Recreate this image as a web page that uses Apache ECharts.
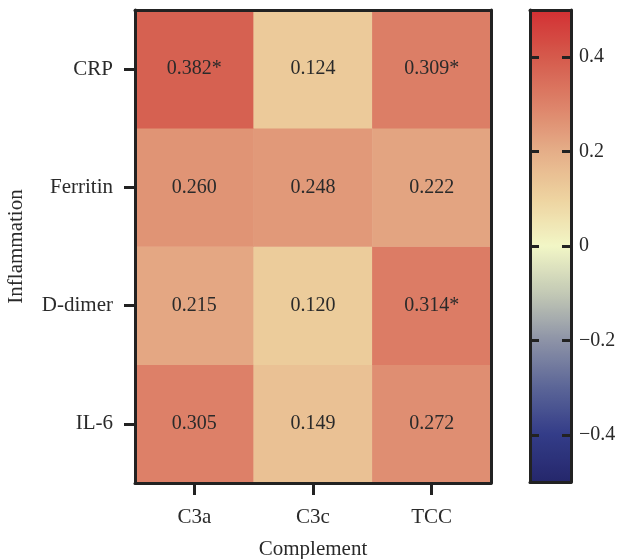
<!DOCTYPE html>
<html>
<head>
<meta charset="utf-8">
<script src="https://cdn.jsdelivr.net/npm/echarts@6/dist/echarts.min.js"></script>
<style>
    html, body { margin: 0; padding: 0; background: #fff; }
    #chart { width: 618px; height: 559px; }
</style>
</head>
<body>
<div id="chart"></div>
<script>
    // columns and rows of the heatmap
    var complement = ["C3a", "C3c", "TCC"];
    var inflammation = ["IL-6", "D-dimer", "Ferritin", "CRP"]; // bottom to top

    // correlation per row, in column order
    var il6 = [0.305, 0.149, 0.272];
    var dDimer = [0.215, 0.120, 0.314];
    var ferritin = [0.260, 0.248, 0.222];
    var crp = [0.382, 0.124, 0.309];

    // significance marks
    var il6Sig = ["", "", ""];
    var dDimerSig = ["", "", "*"];
    var ferritinSig = ["", "", ""];
    var crpSig = ["*", "", "*"];

    var colorbarTicks = [-0.4, -0.2, 0, 0.2, 0.4];
    var palette = ["#25276b", "#333c88", "#5b6597", "#8d93a7", "#c3c9b5", "#f2f6c6",
                   "#eed3a0", "#e5ae88", "#dd8269", "#d55a4c", "#d23033"];

    var rows = [il6, dDimer, ferritin, crp];
    var sigs = [il6Sig, dDimerSig, ferritinSig, crpSig];
    var data = [];
    rows.forEach(function (r, y) {
        r.forEach(function (v, x) {
            data.push([x, y, v, sigs[y][x]]);
        });
    });

    var font = "Liberation Serif";
    var ink = "#2a2a2a";
    var frame = { onZero: false, lineStyle: { color: "#222", width: 3 } };

    var myChart = echarts.init(document.getElementById("chart"));
    var option = {
        animation: false,
        textStyle: { fontFamily: font },
        grid: [
            { left: 135, top: 10, width: 356, height: 473, outerBoundsMode: "none", containLabel: false },
            { left: 530, top: 10, width: 41, height: 472, outerBoundsMode: "none", containLabel: false }
        ],
        xAxis: [
            {
                type: "category", data: complement, gridIndex: 0, position: "bottom",
                name: "Complement", nameLocation: "middle", nameGap: 56,
                nameTextStyle: { fontFamily: font, fontSize: 21, color: ink },
                axisLine: frame,
                axisTick: { show: true, alignWithLabel: true, length: 12, lineStyle: { color: "#222", width: 3 } },
                axisLabel: { fontFamily: font, fontSize: 21, color: ink, margin: 24 },
                z: 10
            },
            {
                type: "category", data: complement, gridIndex: 0, position: "top",
                axisLine: frame, axisTick: { show: false }, axisLabel: { show: false }, z: 10
            },
            {
                type: "value", gridIndex: 1, min: 0, max: 1, position: "bottom",
                axisLine: frame, axisTick: { show: false }, axisLabel: { show: false },
                splitLine: { show: false }, z: 10
            },
            {
                type: "value", gridIndex: 1, min: 0, max: 1, position: "top",
                axisLine: frame, axisTick: { show: false }, axisLabel: { show: false },
                splitLine: { show: false }, z: 10
            }
        ],
        yAxis: [
            {
                type: "category", data: inflammation, gridIndex: 0, position: "left",
                name: "Inflammation", nameLocation: "middle", nameGap: 108, nameRotate: 90,
                nameTextStyle: { fontFamily: font, fontSize: 21, color: ink },
                axisLine: frame,
                axisTick: { show: true, alignWithLabel: true, length: 11, lineStyle: { color: "#222", width: 3 } },
                axisLabel: { fontFamily: font, fontSize: 21, color: ink, margin: 22 },
                z: 10
            },
            {
                type: "category", data: inflammation, gridIndex: 0, position: "right",
                axisLine: frame, axisTick: { show: false }, axisLabel: { show: false }, z: 10
            },
            {
                type: "value", gridIndex: 1, min: -0.5, max: 0.5, interval: 0.1, position: "left",
                axisLine: frame,
                axisTick: {
                    show: true, inside: true, length: 9, lineStyle: { color: "#222", width: 3 },
                    customValues: colorbarTicks
                },
                axisLabel: { show: false }, splitLine: { show: false }, z: 10
            },
            {
                type: "value", gridIndex: 1, min: -0.5, max: 0.5, interval: 0.1, position: "right",
                axisLine: frame,
                axisTick: {
                    show: true, inside: true, length: 9, lineStyle: { color: "#222", width: 3 },
                    customValues: colorbarTicks
                },
                axisLabel: {
                    fontFamily: font, fontSize: 20, color: ink, margin: 8,
                    customValues: colorbarTicks,
                    formatter: function (v) {
                        var s = String(Math.round(v * 10) / 10);
                        return s.replace("-", "\u2212");
                    }
                },
                splitLine: { show: false }, z: 10
            }
        ],
        visualMap: {
            type: "continuous",
            min: -0.5, max: 0.5,
            seriesIndex: 0,
            dimension: 2,
            calculable: false,
            hoverLink: false,
            orient: "vertical",
            left: 530, top: 10,
            padding: 0,
            itemWidth: 41,
            itemHeight: 472,
            inRange: { color: palette },
            z: 1
        },
        series: [
            {
                type: "heatmap",
                xAxisIndex: 0, yAxisIndex: 0,
                data: data,
                encode: { x: 0, y: 1, value: 2 },
                label: {
                    show: true,
                    fontFamily: font, fontSize: 20, color: ink,
                    formatter: function (p) {
                        return p.value[2].toFixed(3) + p.value[3];
                    }
                },
                itemStyle: { borderWidth: 0 }
            }
        ]
    };
    myChart.setOption(option);
</script>
</body>
</html>
